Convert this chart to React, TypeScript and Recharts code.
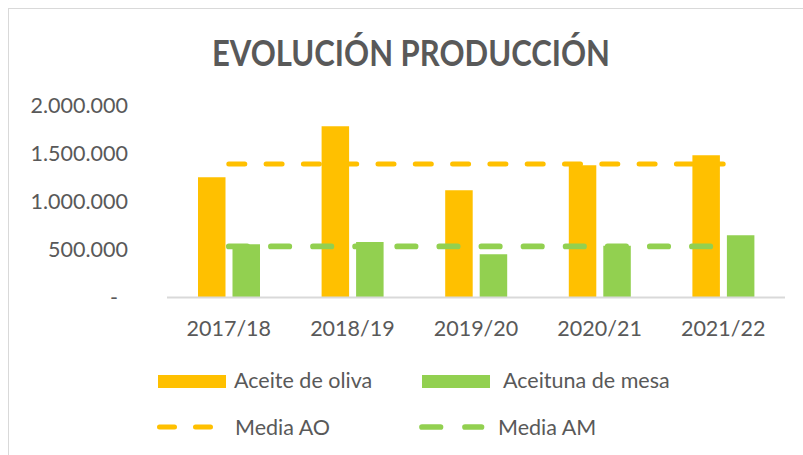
import { Bar, ComposedChart, Line, XAxis, YAxis } from 'recharts';

const campaigns = ['2017/18', '2018/19', '2019/20', '2020/21', '2021/22'];
const aceiteOliva = [1250000, 1780000, 1115000, 1375000, 1478000];
const aceitunaMesa = [552000, 576000, 450000, 537000, 646000];
const mediaAO = [1386000, 1386000, 1386000, 1386000, 1386000];
const mediaAM = [531000, 531000, 531000, 531000, 531000];
const yTicks = [0, 500000, 1000000, 1500000, 2000000];
const seriesNames = ['Aceite de oliva', 'Aceituna de mesa', 'Media AO', 'Media AM'];
const title = 'EVOLUCIÓN PRODUCCIÓN';

const ORANGE = '#FFC000';
const GREEN = '#92D050';
const TEXT = '#595959';
const FONT = 'Lato, "Open Sans", sans-serif';

const data = campaigns.map((c, i) => ({
  campaign: c,
  ao: aceiteOliva[i],
  am: aceitunaMesa[i],
  mediaAO: mediaAO[i],
  mediaAM: mediaAM[i],
}));

function fmt(v: number) {
  if (v === 0) return '-';
  return String(v).replace(/\B(?=(\d{3})+(?!\d))/g, '.');
}

function YTick(props: any) {
  const { x, y, payload } = props;
  const v = payload.value;
  return (
    <text x={v === 0 ? x - 10 : x} y={y} dy="0.355em" textAnchor="end" fill={TEXT} fontSize={21.5} fontFamily={FONT}>
      {fmt(v)}
    </text>
  );
}

function LegendOverlay() {
  const txt = { fill: TEXT, fontSize: 21.5, fontFamily: FONT };
  return (
    <svg width={803} height={455} style={{ position: 'absolute', left: 0, top: 0, pointerEvents: 'none' }}>
      <text x={411} y={66} textAnchor="middle" fill={TEXT} fontSize={36} fontWeight="bold" fontFamily={FONT} textLength={398} lengthAdjust="spacingAndGlyphs">
        {title}
      </text>
      <rect x={158} y={375} width={68} height={13} fill={ORANGE} />
      <text x={234} y={388} {...txt}>{seriesNames[0]}</text>
      <rect x={422} y={375} width={68} height={13} fill={GREEN} />
      <text x={503} y={388} {...txt}>{seriesNames[1]}</text>
      <line x1={159.5} y1={427} x2={211.5} y2={427} stroke={ORANGE} strokeWidth={5} strokeDasharray="15 21" strokeLinecap="round" />
      <text x={235} y={435} {...txt}>{seriesNames[2]}</text>
      <line x1={422} y1={427} x2={481.5} y2={427} stroke={GREEN} strokeWidth={5.7} strokeDasharray="18.5 24.5" strokeLinecap="round" />
      <text x={498} y={435} {...txt}>{seriesNames[3]}</text>
    </svg>
  );
}

export default function App() {
  return (
    <div style={{ position: 'relative', width: 803, height: 455, overflow: 'hidden', background: '#fff' }}>
      <style>{'body{margin:0;overflow:hidden}'}</style>
      <div style={{ position: 'absolute', left: 8, top: 8, width: 900, height: 600, border: '1px solid #D9D9D9' }} />
      <div style={{ position: 'absolute', left: 0, top: 0 }}>
        <ComposedChart width={803} height={455} data={data} barGap={7} margin={{ top: 105, right: 18, bottom: 117.5, left: 0 }}>
          <XAxis
            dataKey="campaign"
            height={40}
            tickLine={false}
            tickSize={0}
            tickMargin={23.7}
            axisLine={{ stroke: '#D9D9D9', strokeWidth: 2 }}
            tick={{ fill: TEXT, fontSize: 21.5, fontFamily: FONT }}
            interval={0}
          />
          <YAxis
            width={167}
            domain={[0, 2000000]}
            ticks={yTicks}
            axisLine={false}
            tickLine={false}
            tickSize={0}
            tickMargin={39}
            tick={<YTick />}
          />
          <Bar dataKey="ao" name={seriesNames[0]} fill={ORANGE} barSize={27.5} isAnimationActive={false} />
          <Bar dataKey="am" name={seriesNames[1]} fill={GREEN} barSize={27.5} isAnimationActive={false} />
          <Line dataKey="mediaAO" name={seriesNames[2]} stroke={ORANGE} strokeWidth={5} strokeDasharray="16 21.3" strokeLinecap="round" dot={false} activeDot={false} isAnimationActive={false} />
          <Line dataKey="mediaAM" name={seriesNames[3]} stroke={GREEN} strokeWidth={5.7} strokeDasharray="18.4 23.7" strokeLinecap="round" dot={false} activeDot={false} isAnimationActive={false} />
        </ComposedChart>
      </div>
      <LegendOverlay />
    </div>
  );
}
